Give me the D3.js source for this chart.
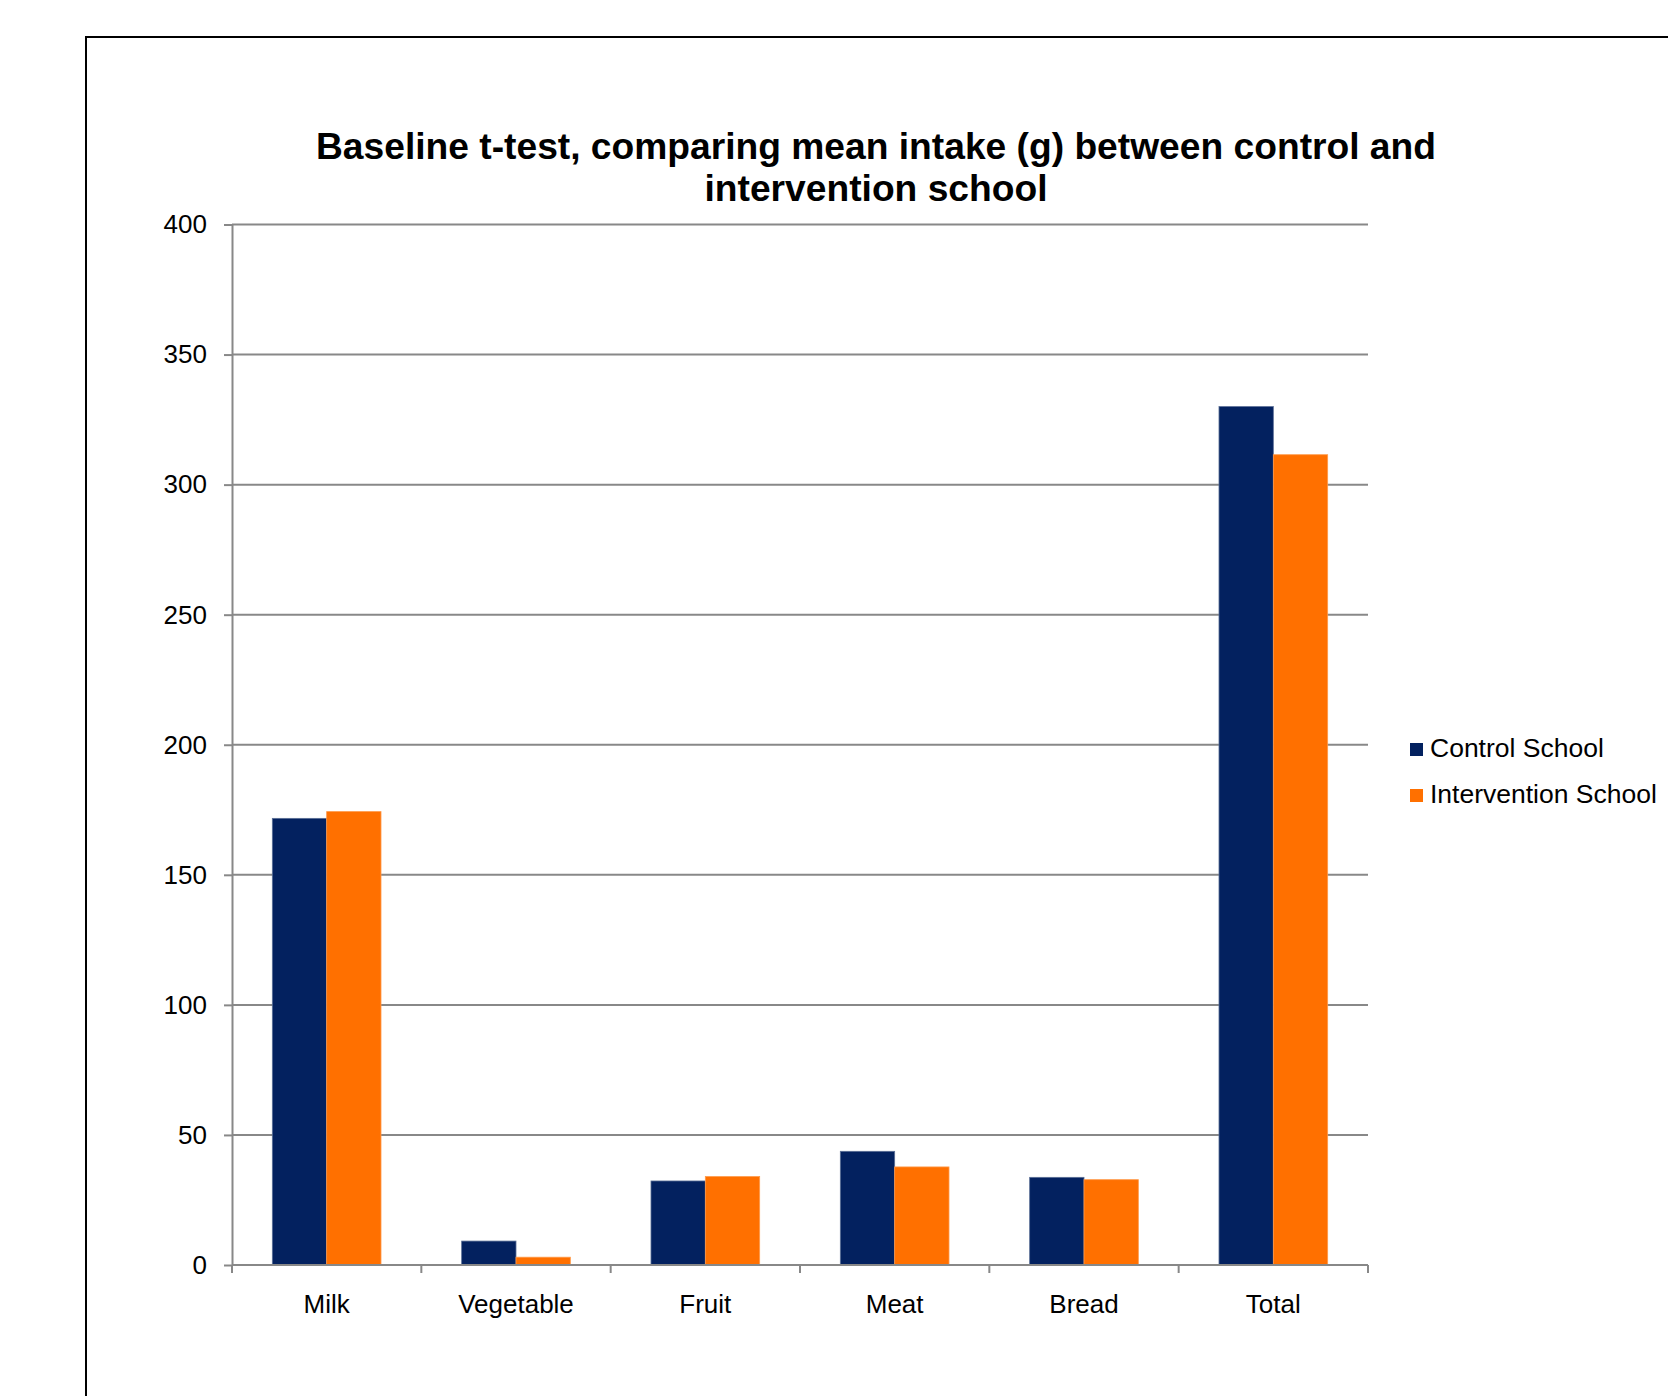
<!DOCTYPE html>
<html>
<head>
<meta charset="utf-8">
<script src="https://cdn.jsdelivr.net/npm/d3@7"></script>
<style>
  html, body { margin: 0; padding: 0; background: #fff; }
  svg { display: block; }
  text { font-family: "Liberation Sans", Arial, sans-serif; fill: #000; }
</style>
</head>
<body>
<svg id="chart" width="1668" height="1396"></svg>
<script>
const categories = ["Milk", "Vegetable", "Fruit", "Meat", "Bread", "Total"];
const seriesNames = ["Control School", "Intervention School"];
const controlValues = [171.7, 9.2, 32.3, 43.7, 33.7, 330.0];
const interventionValues = [174.3, 3.0, 34.0, 37.7, 32.8, 311.5];
const yTicks = [0, 50, 100, 150, 200, 250, 300, 350, 400];
const titleLines = ["Baseline t-test, comparing mean intake (g) between control and", "intervention school"];
const colors = ["#03215f", "#ff7000"];

const svg = d3.select("#chart");
const W = 1668, H = 1396;

// outer frame (extends beyond right/bottom edge)
svg.append("rect").attr("x", 86).attr("y", 37).attr("width", W).attr("height", H)
  .attr("fill", "none").attr("stroke", "#000").attr("stroke-width", 2);

const plot = { left: 232, right: 1368, top: 224.5, bottom: 1265 };

const y = d3.scaleLinear().domain([0, 400]).range([plot.bottom, plot.top]);
const x = d3.scaleBand().domain(categories).range([plot.left, plot.right])
  .paddingInner(0.426).paddingOuter(0.213);
const xs = d3.scaleBand().domain(seriesNames).range([0, x.bandwidth()]);

// gridlines
svg.append("g").selectAll("line").data(yTicks.filter(d => d > 0)).join("line")
  .attr("x1", plot.left).attr("x2", plot.right)
  .attr("y1", d => y(d)).attr("y2", d => y(d))
  .attr("stroke", "#888888").attr("stroke-width", 2);

// y axis
const yAxis = svg.append("g").attr("transform", `translate(${plot.left},0)`)
  .call(d3.axisLeft(y).tickValues(yTicks).tickSize(8).tickSizeOuter(0).tickPadding(17));
yAxis.select(".domain").attr("stroke", "#888888").attr("stroke-width", 2);
yAxis.selectAll(".tick line").attr("stroke", "#888888").attr("stroke-width", 2);
yAxis.selectAll(".tick text").attr("font-size", 26).attr("font-family", "Liberation Sans, Arial, sans-serif").attr("fill", "#000");

// bars
const data = categories.map((c, i) => ({ cat: c, vals: [controlValues[i], interventionValues[i]] }));
const groups = svg.append("g").selectAll("g").data(data).join("g")
  .attr("transform", d => `translate(${x(d.cat)},0)`);
groups.selectAll("rect").data(d => d.vals.map((v, j) => ({ v, s: seriesNames[j], j }))).join("rect")
  .attr("x", d => xs(d.s)).attr("width", xs.bandwidth())
  .attr("y", d => y(d.v)).attr("height", d => y(0) - y(d.v))
  .attr("fill", d => colors[d.j])
  .attr("stroke", d => d.j === 0 ? "#5a6f96" : "#ff9a4a").attr("stroke-width", 0.8);

// x axis
const xg = svg.append("g");
xg.append("line").attr("x1", plot.left).attr("x2", plot.right)
  .attr("y1", y(0)).attr("y2", y(0)).attr("stroke", "#888888").attr("stroke-width", 2);
const boundaries = categories.map(c => x(c) - x.step() * x.paddingOuter()).concat([plot.right]);
xg.selectAll("line.tick").data(boundaries).join("line").attr("class", "tick")
  .attr("x1", d => d).attr("x2", d => d).attr("y1", y(0)).attr("y2", y(0) + 8)
  .attr("stroke", "#888888").attr("stroke-width", 2);
xg.selectAll("text").data(categories).join("text")
  .attr("x", d => x(d) + x.bandwidth() / 2).attr("y", 1313)
  .attr("text-anchor", "middle").attr("font-size", 26).text(d => d);

// title
svg.append("g").selectAll("text").data(titleLines).join("text")
  .attr("x", 876).attr("y", (d, i) => 158.5 + i * 42.5)
  .attr("text-anchor", "middle").attr("font-size", 37.2).attr("font-weight", "bold")
  .text(d => d);

// legend
const lg = svg.append("g").selectAll("g").data(seriesNames).join("g")
  .attr("transform", (d, i) => `translate(1410,${743 + i * 46})`);
lg.append("rect").attr("width", 13).attr("height", 13).attr("fill", (d, i) => colors[i]);
lg.append("text").attr("x", 20).attr("y", 14).attr("font-size", 26.5).text(d => d);
</script>
</body>
</html>
